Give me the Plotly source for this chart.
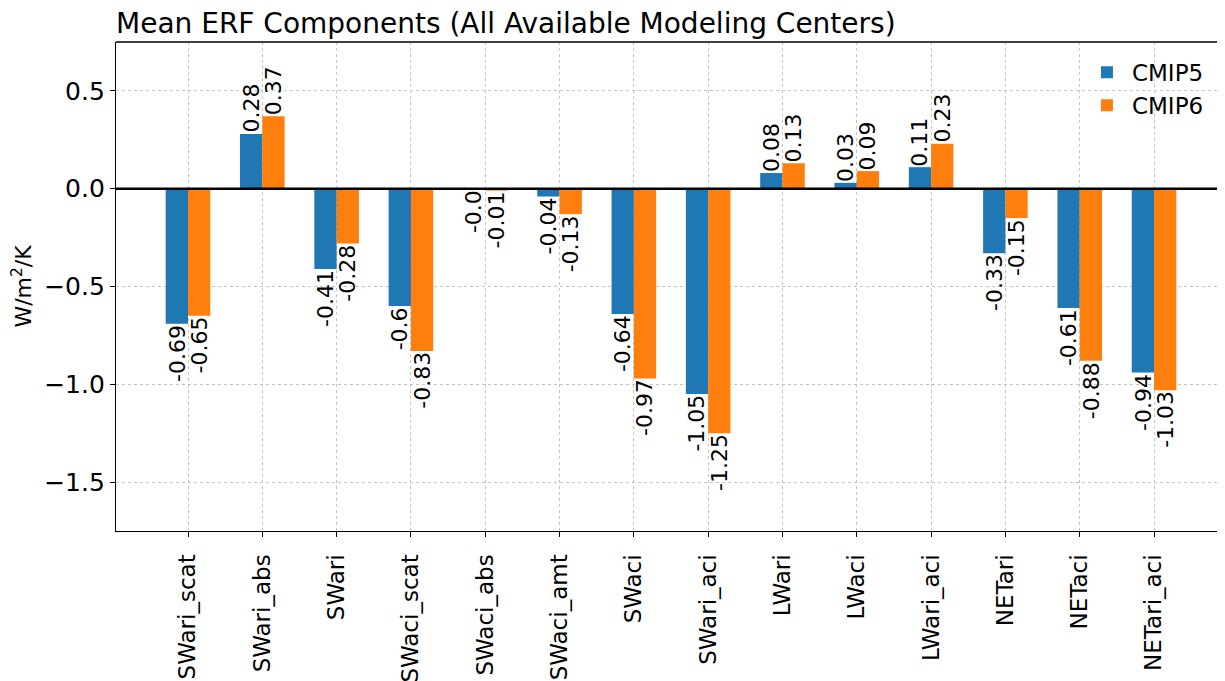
import plotly.graph_objects as go

categories = ["SWari_scat", "SWari_abs", "SWari", "SWaci_scat", "SWaci_abs", "SWaci_amt",
              "SWaci", "SWari_aci", "LWari", "LWaci", "LWari_aci", "NETari", "NETaci", "NETari_aci"]
cmip5 = [-0.69, 0.28, -0.41, -0.6, -0.004, -0.04, -0.64, -1.05, 0.08, 0.03, 0.11, -0.33, -0.61, -0.94]
cmip6 = [-0.65, 0.37, -0.28, -0.83, -0.01, -0.13, -0.97, -1.25, 0.13, 0.09, 0.23, -0.15, -0.88, -1.03]
series_names = ["CMIP5", "CMIP6"]
colors = ["#1f77b4", "#ff7f0e"]
yticks = [-1.5, -1.0, -0.5, 0.0, 0.5]

FONT = "DejaVu Sans"
BW = 0.3
idx = list(range(len(categories)))

fig = go.Figure()
annotations = []
for k, (name, vals, col) in enumerate(zip(series_names, [cmip5, cmip6], colors)):
    off = -BW if k == 0 else 0.0
    fig.add_trace(go.Bar(x=idx, y=vals, name=name, width=BW, offset=off,
                         marker=dict(color=col, line=dict(width=0))))
    for i, v in zip(idx, vals):
        label = str(round(v, 2))
        neg = label.startswith("-")
        annotations.append(dict(
            x=i + off + BW / 2, y=v, xref="x", yref="y", text=label, showarrow=False,
            textangle=-90, xanchor="center", yanchor="top" if neg else "bottom",
            font=dict(family=FONT, size=22, color="black"), borderpad=0))

# the page body adds an 8px offset; margins compensate for it
fig.update_layout(
    width=1225, height=681,
    margin=dict(l=108, r=8, t=34, b=158, autoexpand=False),
    paper_bgcolor="white", plot_bgcolor="white",
    barmode="overlay",
    font=dict(family=FONT, size=20, color="black"),
    title=dict(text="Mean ERF Components (All Available Modeling Centers)",
               x=0, xref="paper", xanchor="left", y=1, yref="paper", yanchor="bottom",
               pad=dict(b=9), automargin=False,
               font=dict(family=FONT, size=28, color="black")),
    showlegend=True,
    legend=dict(x=0.871, y=0.982, xanchor="left", yanchor="top", bgcolor="rgba(0,0,0,0)",
                font=dict(family=FONT, size=23, color="black"), tracegroupgap=0,
                itemwidth=40),
    annotations=annotations,
    shapes=[
        dict(type="line", xref="paper", yref="y", x0=0, x1=1, y0=0, y1=0,
             line=dict(color="black", width=2.5), layer="above"),
        dict(type="line", xref="paper", yref="paper", x0=0, x1=1, y0=1, y1=1,
             line=dict(color="black", width=1.3), layer="above"),
    ],
)
fig.update_xaxes(
    range=[-0.969, 13.955], tickmode="array", tickvals=idx, ticktext=categories,
    tickangle=-90, ticks="outside", ticklen=5, tickcolor="black", tickwidth=1.2,
    showline=True, linecolor="black", linewidth=1.3, automargin=False,
    ticklabelstandoff=8,
    showgrid=True, gridcolor="#c4c4c4", griddash="dot", gridwidth=1,
    zeroline=False, tickfont=dict(family=FONT, size=23, color="black"))
fig.update_yaxes(
    range=[-1.75, 0.75], tickmode="array", tickvals=yticks, tickformat=".1f",
    ticks="outside", ticklen=5, tickcolor="black", tickwidth=1.2,
    showline=True, linecolor="black", linewidth=1.3, automargin=False,
    showgrid=True, gridcolor="#c4c4c4", griddash="dot", gridwidth=1,
    zeroline=False, tickfont=dict(family=FONT, size=25, color="black"),
    title=dict(text="W/m<sup>2</sup>/K", standoff=13, font=dict(family=FONT, size=22, color="black")))

fig.write_html("out.html")
